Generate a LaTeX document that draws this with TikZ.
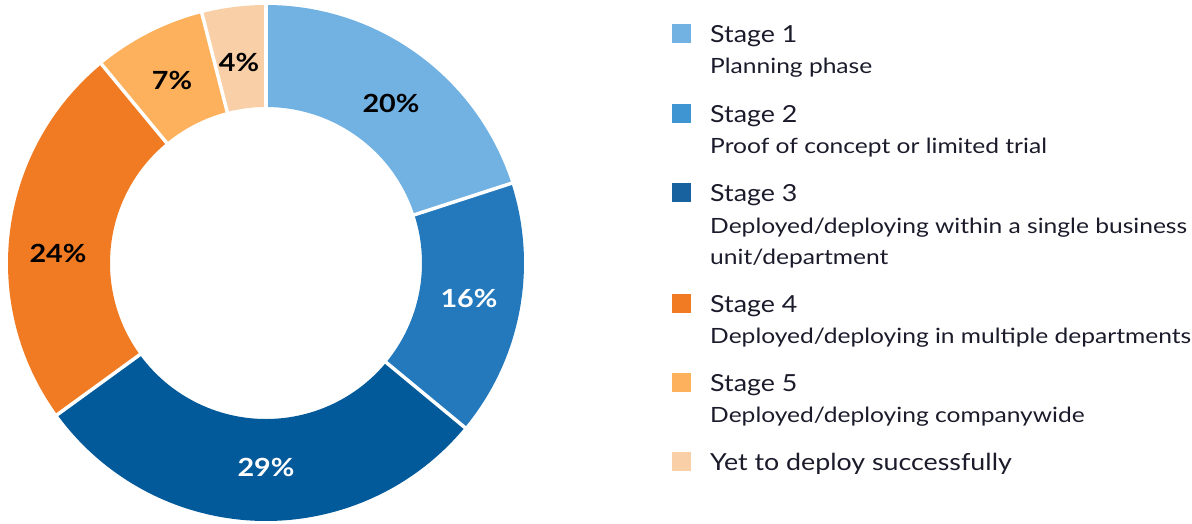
\documentclass[tikz,border=0pt]{standalone}
\usepackage{fontspec}
\setmainfont{Lato}
\newfontfamily\descfont[FakeStretch=1.17]{Lato}
\newfontfamily\headfont[FakeStretch=1.14]{Lato}
\newfontfamily\pctfont[FakeStretch=1.15]{Lato}
\definecolor{cA}{HTML}{72B2E2}
\definecolor{cB}{HTML}{2479BD}
\definecolor{cC}{HTML}{035A9A}
\definecolor{cD}{HTML}{F07B22}
\definecolor{cE}{HTML}{FDB15D}
\definecolor{cF}{HTML}{F8CFA6}
\definecolor{lB}{HTML}{3F95D2}
\definecolor{lC}{HTML}{1862A0}
\definecolor{ink}{HTML}{1B1B2B}
\tikzset{
  pct/.style={font=\pctfont\fontsize{25}{29}\selectfont\bfseries, inner sep=0pt},
  head/.style={anchor=base west, inner sep=0pt, text=ink, font=\headfont\fontsize{23.5}{27}\selectfont},
  desc/.style={anchor=base west, inner sep=0pt, text=ink, font=\descfont\fontsize{21}{25}\selectfont},
  swatch/.style={minimum size=19pt, inner sep=0pt, anchor=south west},
  gap/.style={white, line width=3.5pt}
}
\begin{document}
\begin{tikzpicture}[x=1pt,y=-1pt]
\useasboundingbox (0,0) rectangle (1192,523);
\begin{scope}[shift={(266,263)}, y=1pt]
  \def\Ro{258}\def\Ri{156}
  \foreach \a/\b/\c in {90/18/cA, 18/-39.6/cB, -39.6/-144/cC, -144/-230.4/cD, -230.4/-255.6/cE, -255.6/-270/cF}{
    \fill[\c] (\a:\Ro) arc[start angle=\a, end angle=\b, radius=\Ro] -- (\b:\Ri) arc[start angle=\b, end angle=\a, radius=\Ri] -- cycle;
  }
  \foreach \a in {90,18,-39.6,-144,-230.4,-255.6}{
    \draw[gap] (\a:\Ri-3) -- (\a:\Ro+3);
  }
\end{scope}
\node[pct, text=black] (p1) at (391,103) {20\%};
\node[pct, text=white] (p2) at (469,298) {16\%};
\node[pct, text=white] (p3) at (266,467) {29\%};
\node[pct, text=black] (p4) at (58,253) {24\%};
\node[pct, text=black] (p5) at (172,80) {7\%};
\node[pct, text=black] (p6) at (239,62) {4\%};
% legend
\node[swatch, fill=cA] (s1) at (672,43) {};
\node[head] (h1) at (710,42.5) {Stage 1};
\node[desc] (d1) at (710,73) {Planning phase};
\node[swatch, fill=lB] (s2) at (672,123) {};
\node[head] (h2) at (710,122.5) {Stage 2};
\node[desc] (d2) at (710,153) {Proof of concept or limited trial};
\node[swatch, fill=lC] (s3) at (672,202) {};
\node[head] (h3) at (710,201.5) {Stage 3};
\node[desc] (d3) at (710,233) {Deployed/deploying within a single business};
\node[desc] (d3b) at (710,264) {unit/department};
\node[swatch, fill=cD] (s4) at (672,313) {};
\node[head] (h4) at (710,312.5) {Stage 4};
\node[desc] (d4) at (710,343) {Deployed/deploying in multiple departments};
\node[swatch, fill=cE] (s5) at (672,392) {};
\node[head] (h5) at (710,391.5) {Stage 5};
\node[desc] (d5) at (710,422) {Deployed/deploying companywide};
\node[swatch, fill=cF] (s6) at (672,471) {};
\node[head] (h6) at (710,470.5) {Yet to deploy successfully};
\end{tikzpicture}
\end{document}
